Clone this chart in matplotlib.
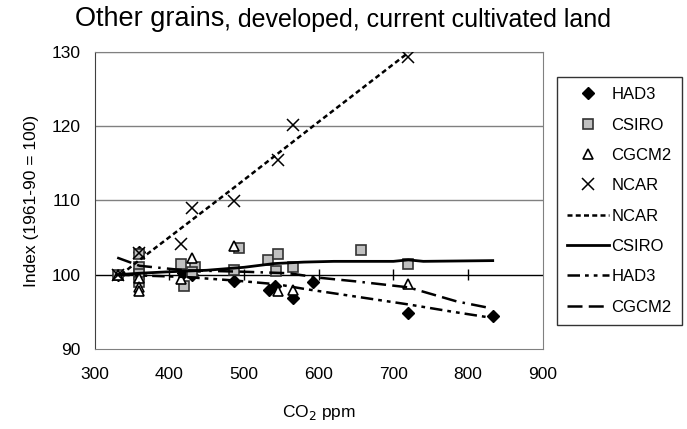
import matplotlib.pyplot as plt
import numpy as np

plt.rcParams["font.family"] = ["Liberation Sans", "DejaVu Sans"]

# model results (points)
had3_x = [331, 359, 418, 430, 487, 533, 542, 566, 592, 719, 833]
had3_y = [100.0, 103.1, 100.2, 100.0, 99.1, 98.0, 98.5, 96.9, 99.0, 94.9, 94.4]

csiro_x = [331, 359, 359, 359, 359, 416, 434, 430, 420, 493, 486, 532, 545, 543, 566, 657, 719]
csiro_y = [100.0, 102.8, 101.0, 100.1, 99.0, 101.4, 101.1, 100.3, 98.5, 103.6, 100.7, 102.0, 102.8, 100.5,
           101.0, 103.3, 101.4]

cgcm2_x = [331, 359, 359, 359, 430, 416, 487, 545, 566, 719]
cgcm2_y = [100.0, 99.6, 98.4, 97.8, 102.3, 99.4, 103.9, 97.8, 98.0, 98.7]

ncar_x = [331, 359, 416, 430, 486, 545, 566, 719]
ncar_y = [100.0, 102.9, 104.2, 109.0, 109.9, 115.4, 120.1, 129.3]

# fitted curves
ncar_fx = [335, 360, 420, 490, 545, 600, 720]
ncar_fy = [100.0, 102.0, 106.6, 112.0, 116.3, 120.6, 129.9]

csiro_fx = [330, 360, 400, 450, 500, 540, 580, 620, 700, 720, 740, 833]
csiro_fy = [100.0, 100.2, 100.4, 100.6, 101.0, 101.5, 101.7, 101.8, 101.8, 102.0, 101.8, 101.9]

had3_fx = [330, 360, 420, 490, 545, 580, 600, 720, 780, 825]
had3_fy = [100.0, 99.9, 99.7, 99.2, 98.7, 98.1, 97.8, 96.0, 95.0, 94.3]

cgcm2_fx = [330, 360, 420, 500, 560, 600, 650, 720, 785, 825]
cgcm2_fy = [102.3, 101.2, 100.6, 100.4, 100.2, 99.6, 99.1, 98.3, 96.4, 95.6]

xticks = [300, 400, 500, 600, 700, 800, 900]
yticks = [90, 100, 110, 120, 130]

fig = plt.figure(figsize=(6.87, 4.29), dpi=100)
ax = fig.add_axes([0.138, 0.1865, 0.652, 0.6925])

for yy in yticks[2:]:
    ax.axhline(yy, color="#808080", lw=1, zorder=0)
# horizontal axis crosses at 100
ax.axhline(100, color="black", lw=1, zorder=1)
ax.vlines(xticks[1:-1], 99.25, 100.75, color="black", lw=1, zorder=1)

ax.plot(had3_x, had3_y, "D", color="black", ms=6, ls="none", label="HAD3", zorder=3)
ax.plot(csiro_x, csiro_y, "s", mfc="#c0c0c0", mec="#333333", mew=1.2, ms=7.5, ls="none", label="CSIRO", zorder=3)
ax.plot(cgcm2_x, cgcm2_y, "^", mfc="white", mec="black", mew=1.2, ms=7.5, ls="none", label="CGCM2", zorder=3)
ax.plot(ncar_x, ncar_y, "x", color="black", mew=1.1, ms=8.5, ls="none", label="NCAR", zorder=3)

ax.plot(ncar_fx, ncar_fy, color="black", lw=1.8, ls=(0, (2, 1.3)), label="NCAR", zorder=4)
ax.plot(csiro_fx, csiro_fy, color="black", lw=2, ls="-", label="CSIRO", zorder=4)
ax.plot(had3_fx, had3_fy, color="black", lw=1.8, ls=(0, (5, 2, 1.5, 2, 1.5, 2)), label="HAD3", zorder=4)
ax.plot(cgcm2_fx, cgcm2_fy, color="black", lw=1.8, ls=(0, (6, 2.5, 6, 2.5, 1, 2.5)), label="CGCM2", zorder=4)

ax.set_xlim(300, 900)
ax.set_ylim(90, 130)
ax.set_xticks(xticks)
ax.set_yticks(yticks)
ax.tick_params(length=0, labelsize=12.5)
ax.tick_params(axis="x", pad=13)
ax.tick_params(axis="y", pad=10)
for s in ax.spines.values():
    s.set_color("#808080")
ax.spines["left"].set_color("#404040")

ax.set_xlabel("CO$_2$ ppm", fontsize=12.5, labelpad=15)
ax.set_ylabel("Index (1961-90 = 100)", fontsize=12.5, labelpad=9)

leg = fig.legend(loc="upper left", bbox_to_anchor=(0.811, 0.82), bbox_transform=fig.transFigure,
                 fontsize=12, frameon=True, fancybox=False, edgecolor="black", handlelength=2.5,
                 handletextpad=0.15, labelspacing=0.92, borderpad=0.6, borderaxespad=0)
leg.get_frame().set_linewidth(1)

t1 = fig.text(0.109, 0.925, "Other grains", fontsize=19.5, ha="left", va="bottom")
fig.canvas.draw()
ax.annotate(", developed, current cultivated land", xy=(1, 0), xycoords=t1, fontsize=18,
            ha="left", va="bottom", annotation_clip=False)

fig.savefig("out.png", dpi=100)
